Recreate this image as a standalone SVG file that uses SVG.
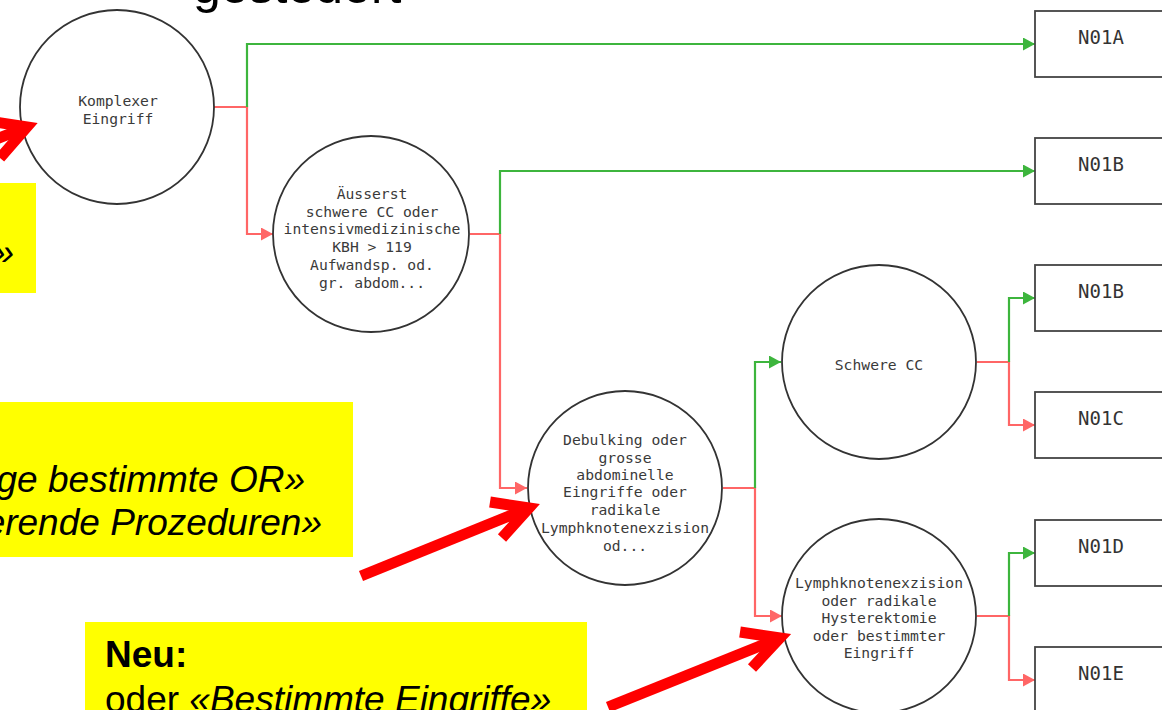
<svg xmlns="http://www.w3.org/2000/svg" width="1162" height="710" viewBox="0 0 1162 710">
  <style>
    .node circle { fill: #ffffff; stroke: #333333; stroke-width: 1.8; }
    .node rect { fill: #ffffff; stroke: #444444; stroke-width: 1.8; }
    .ctext { font-family: "DejaVu Sans Mono", monospace; font-size: 14.7px; fill: #3a3a3a; text-anchor: middle; }
    .btext { font-family: "DejaVu Sans Mono", monospace; font-size: 19px; fill: #333333; text-anchor: middle; }
    .yes { fill: none; stroke: #3db53d; stroke-width: 2.2; }
    .no { fill: none; stroke: #ff6666; stroke-width: 2.2; }
    .note { fill: #ffff00; }
    .ntext { font-family: "Liberation Sans", Arial, sans-serif; font-size: 37px; fill: #000000; }
    .pointer { fill: none; stroke: #ff0000; stroke-width: 11; stroke-linecap: butt; stroke-linejoin: miter; }
  </style>
  <defs>
    <marker id="arrYes" markerUnits="userSpaceOnUse" markerWidth="12" markerHeight="13" refX="12" refY="6.5" orient="auto">
      <path d="M0,0 L12,6.5 L0,13 z" fill="#3db53d"/>
    </marker>
    <marker id="arrNo" markerUnits="userSpaceOnUse" markerWidth="12" markerHeight="13" refX="12" refY="6.5" orient="auto">
      <path d="M0,0 L12,6.5 L0,13 z" fill="#ff6666"/>
    </marker>
  </defs>

  <rect width="1162" height="710" fill="#ffffff"/>

  <!-- heading, cut by the upper edge -->
  <text x="193" y="3" font-family="Liberation Sans, Arial, sans-serif" font-size="50" fill="#000000">gesteuert</text>

  <!-- connectors -->
  <g id="connectors">
    <path class="no" d="M214,107 H247 V234 H273" marker-end="url(#arrNo)"/>
    <path class="yes" d="M247,107 V44 H1035" marker-end="url(#arrYes)"/>
    <path class="no" d="M470,234 H500 V488 H527" marker-end="url(#arrNo)"/>
    <path class="yes" d="M500,234 V171 H1035" marker-end="url(#arrYes)"/>
    <path class="no" d="M723,488 H755 V616 H782" marker-end="url(#arrNo)"/>
    <path class="yes" d="M755,488 V362 H781" marker-end="url(#arrYes)"/>
    <path class="no" d="M977,362 H1009 V425 H1035" marker-end="url(#arrNo)"/>
    <path class="yes" d="M1009,362 V298 H1035" marker-end="url(#arrYes)"/>
    <path class="no" d="M977,616 H1009 V680 H1035" marker-end="url(#arrNo)"/>
    <path class="yes" d="M1009,616 V553 H1035" marker-end="url(#arrYes)"/>
  </g>

  <!-- decision nodes -->
  <g id="node-komplex" class="node">
    <circle cx="117" cy="107" r="97"/>
    <text class="ctext" x="118" y="106">Komplexer</text>
    <text class="ctext" x="118" y="124">Eingriff</text>
  </g>
  <g id="node-ausserst" class="node">
    <circle cx="371" cy="234" r="98"/>
    <text class="ctext" x="372" y="199">Äusserst</text>
    <text class="ctext" x="372" y="217">schwere CC oder</text>
    <text class="ctext" x="372" y="234">intensivmedizinische</text>
    <text class="ctext" x="372" y="252">KBH &gt; 119</text>
    <text class="ctext" x="372" y="270">Aufwandsp. od.</text>
    <text class="ctext" x="372" y="288">gr. abdom...</text>
  </g>
  <g id="node-debulking" class="node">
    <circle cx="625" cy="488" r="97"/>
    <text class="ctext" x="625" y="445">Debulking oder</text>
    <text class="ctext" x="625" y="463">grosse</text>
    <text class="ctext" x="625" y="480">abdominelle</text>
    <text class="ctext" x="625" y="497">Eingriffe oder</text>
    <text class="ctext" x="625" y="515">radikale</text>
    <text class="ctext" x="625" y="533">Lymphknotenexzision</text>
    <text class="ctext" x="625" y="551">od...</text>
  </g>
  <g id="node-schwere-cc" class="node">
    <circle cx="879" cy="362" r="97"/>
    <text class="ctext" x="879" y="370">Schwere CC</text>
  </g>
  <g id="node-lymph" class="node">
    <circle cx="879" cy="616" r="97"/>
    <text class="ctext" x="879" y="588">Lymphknotenexzision</text>
    <text class="ctext" x="879" y="606">oder radikale</text>
    <text class="ctext" x="879" y="623">Hysterektomie</text>
    <text class="ctext" x="879" y="641">oder bestimmter</text>
    <text class="ctext" x="879" y="658">Eingriff</text>
  </g>

  <!-- result nodes -->
  <g id="drg-n01a" class="node">
    <rect x="1035" y="11" width="140" height="66"/>
    <text class="btext" x="1101" y="44">N01A</text>
  </g>
  <g id="drg-n01b-1" class="node">
    <rect x="1035" y="138" width="140" height="66"/>
    <text class="btext" x="1101" y="171">N01B</text>
  </g>
  <g id="drg-n01b-2" class="node">
    <rect x="1035" y="265" width="140" height="66"/>
    <text class="btext" x="1101" y="298">N01B</text>
  </g>
  <g id="drg-n01c" class="node">
    <rect x="1035" y="392" width="140" height="66"/>
    <text class="btext" x="1101" y="425">N01C</text>
  </g>
  <g id="drg-n01d" class="node">
    <rect x="1035" y="520" width="140" height="66"/>
    <text class="btext" x="1101" y="553">N01D</text>
  </g>
  <g id="drg-n01e" class="node">
    <rect x="1035" y="647" width="140" height="66"/>
    <text class="btext" x="1101" y="680">N01E</text>
  </g>

  <!-- yellow notes -->
  <g id="note-top">
    <rect class="note" x="-10" y="183" width="46" height="110"/>
    <text class="ntext" x="14" y="265" text-anchor="end" font-style="italic">»</text>
  </g>
  <g id="note-middle">
    <rect class="note" x="-10" y="402" width="363" height="155"/>
    <text class="ntext" x="305" y="492" text-anchor="end" font-style="italic">ge bestimmte OR»</text>
    <text class="ntext" x="322" y="535" text-anchor="end" font-style="italic">erende Prozeduren»</text>
  </g>
  <g id="note-bottom">
    <rect class="note" x="85" y="622" width="502" height="100"/>
    <text class="ntext" x="105" y="667" font-weight="bold">Neu:</text>
    <text class="ntext" x="105" y="712">oder <tspan font-style="italic">«Bestimmte Eingriffe»</tspan></text>
  </g>

  <!-- red pointer arrows -->
  <g id="pointers">
    <path class="pointer" d="M-150,197 L27,127"/>
    <path class="pointer" d="M-11,121 L27,127 L0,158"/>
    <path class="pointer" d="M361,576 L529,508"/>
    <path class="pointer" d="M490,502 L529,508 L502,538"/>
    <path class="pointer" d="M608,707 L780,638"/>
    <path class="pointer" d="M740,632 L780,638 L752,668"/>
  </g>
</svg>
